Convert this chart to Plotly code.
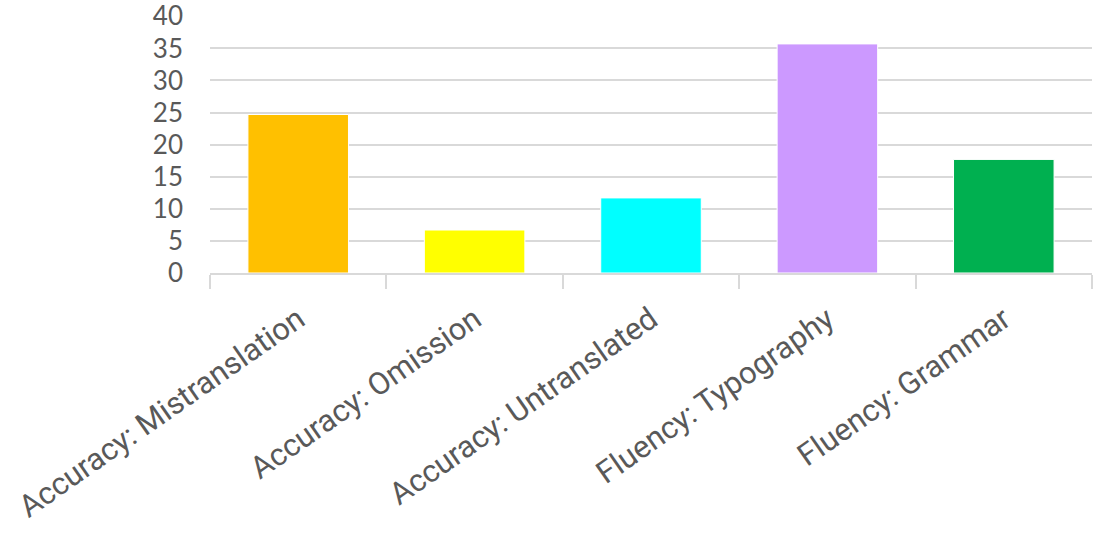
import plotly.graph_objects as go

categories = ["Accuracy: Mistranslation", "Accuracy: Omission", "Accuracy: Untranslated",
              "Fluency: Typography", "Fluency: Grammar"]
values = [24.7, 6.7, 11.7, 35.7, 17.7]
colors = ["#FFC000", "#FFFF00", "#00FFFF", "#CC99FF", "#00B050"]
y_ticks = [0, 5, 10, 15, 20, 25, 30, 35, 40]

fig = go.Figure(go.Bar(
    x=categories, y=values,
    marker=dict(color=colors, line=dict(color="white", width=1)),
))

fig.update_layout(
    width=1094, height=541,
    margin=dict(l=210, r=2, t=16, b=268),
    plot_bgcolor="white", paper_bgcolor="white",
    bargap=0.43,
    showlegend=False,
)
fig.update_xaxes(
    tickangle=-35,
    tickfont=dict(family="Roboto", size=31, color="#595959"),
    showline=True, linecolor="#d9d9d9", linewidth=2,
    ticks="outside", tickson="boundaries", ticklen=14, tickcolor="#d9d9d9", tickwidth=2,
    showgrid=False, ticklabelstandoff=14, automargin=False,
)
fig.update_yaxes(
    range=[0, 40.05], tickvals=y_ticks,
    tickfont=dict(family="Lato", size=26, color="#595959"),
    showgrid=True, gridcolor="#d9d9d9", gridwidth=2,
    zeroline=False, ticklabelstandoff=26, ticklabeloverflow="allow", automargin=False,
)

fig.write_html("out.html")
